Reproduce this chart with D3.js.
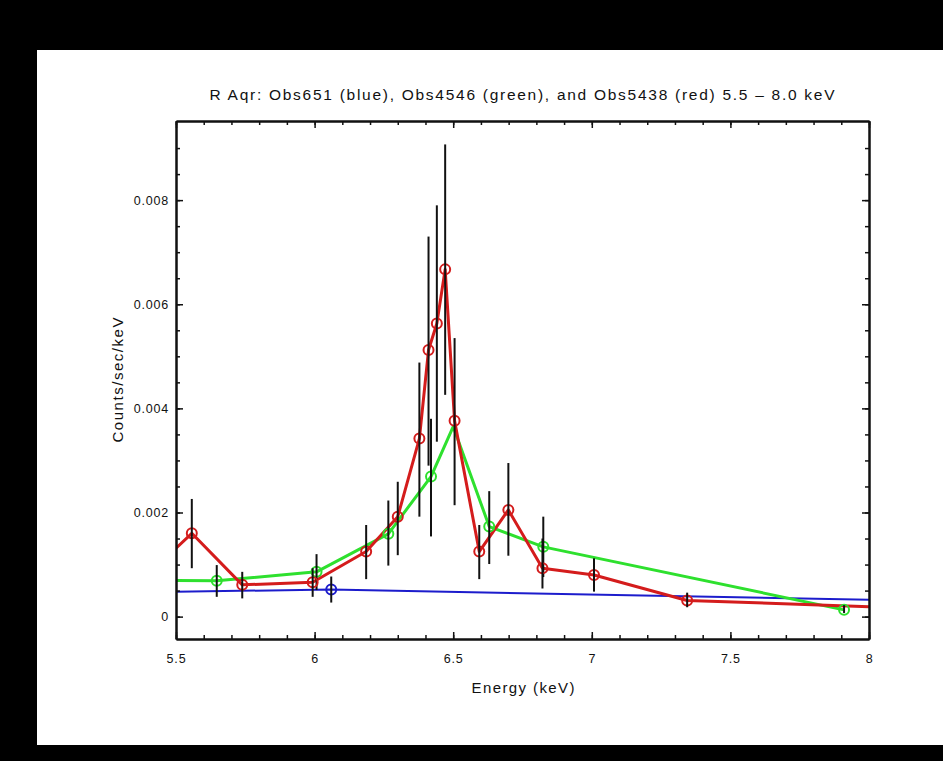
<!DOCTYPE html>
<html>
<head>
<meta charset="utf-8">
<script src="https://cdn.jsdelivr.net/npm/d3@7"></script>
<style>
  body { margin: 0; background: black; }
  text { font-family: "Liberation Sans", Arial, sans-serif; fill: #111; }
</style>
</head>
<body>
<svg id="chart" width="943" height="761"></svg>
<script>
// Obs5438 (red)
let red_energy = [5.45, 5.557, 5.739, 5.993, 6.186, 6.30, 6.378, 6.411, 6.441, 6.471, 6.505, 6.594, 6.699, 6.822, 7.008, 7.344, 8.2];
let red_counts = [0.00106, 0.0016, 0.00061, 0.00066, 0.00125, 0.00192, 0.00342, 0.00512, 0.00563, 0.00667, 0.00376, 0.00125, 0.00205, 0.00093, 0.0008, 0.00031, 0.000153];
let red_err_hi = [null, 0.00226, 0.00086, 0.00093, 0.00176, 0.00259, 0.00488, 0.0073, 0.0079, 0.00907, 0.00535, 0.00176, 0.00295, 0.0015, 0.00112, 0.00046, null];
let red_err_lo = [null, 0.00093, 0.00035, 0.00038, 0.00072, 0.00118, 0.00192, 0.0029, 0.00336, 0.00426, 0.00214, 0.00072, 0.00117, 0.00054, 0.00048, 0.00018, null];

// Obs4546 (green)
let green_energy = [5.35, 5.647, 6.007, 6.266, 6.42, 6.5, 6.63, 6.825, 7.91];
let green_counts = [0.0007, 0.00069, 0.00086, 0.00159, 0.00269, 0.00365, 0.00173, 0.00134, 0.00013];
let green_err_hi = [null, 0.00099, 0.0012, 0.00223, 0.0038, null, 0.00241, 0.00192, 0.00022];
let green_err_lo = [null, 0.00038, 0.00051, 0.00098, 0.00154, null, 0.00101, 0.00076, 0.00007];

// Obs651 (blue)
let blue_energy = [5.0, 6.06, 9.0];
let blue_counts = [0.00044, 0.00052, 0.00022];
let blue_err_hi = [null, 0.00077, null];
let blue_err_lo = [null, 0.00027, null];

let x_ticks = [5.5, 6, 6.5, 7, 7.5, 8];
let x_tick_labels = ["5.5", "6", "6.5", "7", "7.5", "8"];
let y_ticks = [0, 0.002, 0.004, 0.006, 0.008];
let y_tick_labels = ["0", "0.002", "0.004", "0.006", "0.008"];

let title = "R Aqr: Obs651 (blue), Obs4546 (green), and Obs5438 (red) 5.5 \u2013 8.0 keV";

function make_series(energy, counts, hi, lo) {
  return energy.map((e, i) => ({ e: e, v: counts[i], hi: hi[i], lo: lo[i] }));
}

let series = [
  { color: "#1c1ccc", width: 2, data: make_series(blue_energy, blue_counts, blue_err_hi, blue_err_lo) },
  { color: "#2ee02e", width: 3, data: make_series(green_energy, green_counts, green_err_hi, green_err_lo) },
  { color: "#d41c1c", width: 3, data: make_series(red_energy, red_counts, red_err_hi, red_err_lo) }
];

let svg = d3.select("#chart");

svg.append("rect")
  .attr("x", 0).attr("y", 0)
  .attr("width", 943).attr("height", 761)
  .attr("fill", "black");

svg.append("rect")
  .attr("x", 37).attr("y", 50)
  .attr("width", 906).attr("height", 695)
  .attr("fill", "white");

let plot = { left: 176, right: 869, top: 121, bottom: 639 };

let scale_x = d3.scaleLinear()
  .domain([5.5, 8])
  .range([plot.left, plot.right]);
let scale_y = d3.scaleLinear()
  .domain([-0.00043, 0.00952])
  .range([plot.bottom, plot.top]);

svg.append("clipPath")
  .attr("id", "plot-clip")
  .append("rect")
  .attr("x", plot.left).attr("y", plot.top)
  .attr("width", plot.right - plot.left)
  .attr("height", plot.bottom - plot.top);

let line = d3.line()
  .x(d => scale_x(d.e))
  .y(d => scale_y(d.v));

let marks = svg.append("g").attr("clip-path", "url(#plot-clip)");

series.forEach(s => {
  marks.append("path")
    .datum(s.data)
    .attr("d", line)
    .attr("fill", "none")
    .attr("stroke", s.color)
    .attr("stroke-width", s.width)
    .attr("stroke-linejoin", "round");
});

series.forEach(s => {
  let with_err = s.data.filter(d => d.hi != null);
  marks.selectAll(null)
    .data(with_err)
    .enter()
    .append("circle")
    .attr("cx", d => scale_x(d.e))
    .attr("cy", d => scale_y(d.v))
    .attr("r", 5)
    .attr("fill", "none")
    .attr("stroke", s.color)
    .attr("stroke-width", 2);
  marks.selectAll(null)
    .data(with_err)
    .enter()
    .append("line")
    .attr("x1", d => scale_x(d.e))
    .attr("x2", d => scale_x(d.e))
    .attr("y1", d => scale_y(d.hi))
    .attr("y2", d => scale_y(d.lo))
    .attr("stroke", "#111")
    .attr("stroke-width", 2);
});

// axes: major and minor ticks on all four sides, pointing inward
let x_minor = d3.range(5.5, 8.001, 0.1);
let y_minor = d3.range(0, 0.00901, 0.0005);

function draw_axis(axis, transform) {
  let g = svg.append("g")
    .attr("transform", transform)
    .call(axis);
  g.selectAll("line").attr("stroke", "#111").attr("stroke-width", 1.5);
  g.select(".domain").attr("stroke", "#111").attr("stroke-width", 2);
  g.selectAll("text")
    .style("font-family", "'Liberation Sans', Arial, sans-serif")
    .style("font-size", "12.5px")
    .style("letter-spacing", "0.8px")
    .attr("fill", "#111");
  return g;
}

draw_axis(d3.axisBottom(scale_x).tickValues(x_ticks)
  .tickFormat((d, i) => x_tick_labels[i])
  .tickSizeInner(-7).tickSizeOuter(0).tickPadding(15),
  "translate(0," + plot.bottom + ")");
draw_axis(d3.axisBottom(scale_x).tickValues(x_minor).tickFormat("")
  .tickSizeInner(-4).tickSizeOuter(0),
  "translate(0," + plot.bottom + ")");
draw_axis(d3.axisTop(scale_x).tickValues(x_ticks).tickFormat("")
  .tickSizeInner(-7).tickSizeOuter(0),
  "translate(0," + plot.top + ")");
draw_axis(d3.axisTop(scale_x).tickValues(x_minor).tickFormat("")
  .tickSizeInner(-4).tickSizeOuter(0),
  "translate(0," + plot.top + ")");

draw_axis(d3.axisLeft(scale_y).tickValues(y_ticks)
  .tickFormat((d, i) => y_tick_labels[i])
  .tickSizeInner(-7).tickSizeOuter(0).tickPadding(7),
  "translate(" + plot.left + ",0)");
draw_axis(d3.axisLeft(scale_y).tickValues(y_minor).tickFormat("")
  .tickSizeInner(-4).tickSizeOuter(0),
  "translate(" + plot.left + ",0)");
draw_axis(d3.axisRight(scale_y).tickValues(y_ticks).tickFormat("")
  .tickSizeInner(-7).tickSizeOuter(0),
  "translate(" + plot.right + ",0)");
draw_axis(d3.axisRight(scale_y).tickValues(y_minor).tickFormat("")
  .tickSizeInner(-4).tickSizeOuter(0),
  "translate(" + plot.right + ",0)");

svg.append("text")
  .attr("x", 522)
  .attr("y", 100)
  .attr("text-anchor", "middle")
  .attr("textLength", 625)
  .attr("lengthAdjust", "spacing")
  .style("font-size", "15.5px")
  .text(title);

svg.append("text")
  .attr("x", 523)
  .attr("y", 693)
  .attr("text-anchor", "middle")
  .attr("textLength", 103)
  .attr("lengthAdjust", "spacing")
  .style("font-size", "15px")
  .text("Energy (keV)");

svg.append("text")
  .attr("transform", "translate(123,380) rotate(-90)")
  .attr("text-anchor", "middle")
  .attr("textLength", 125)
  .attr("lengthAdjust", "spacing")
  .style("font-size", "15px")
  .text("Counts/sec/keV");
</script>
</body>
</html>
